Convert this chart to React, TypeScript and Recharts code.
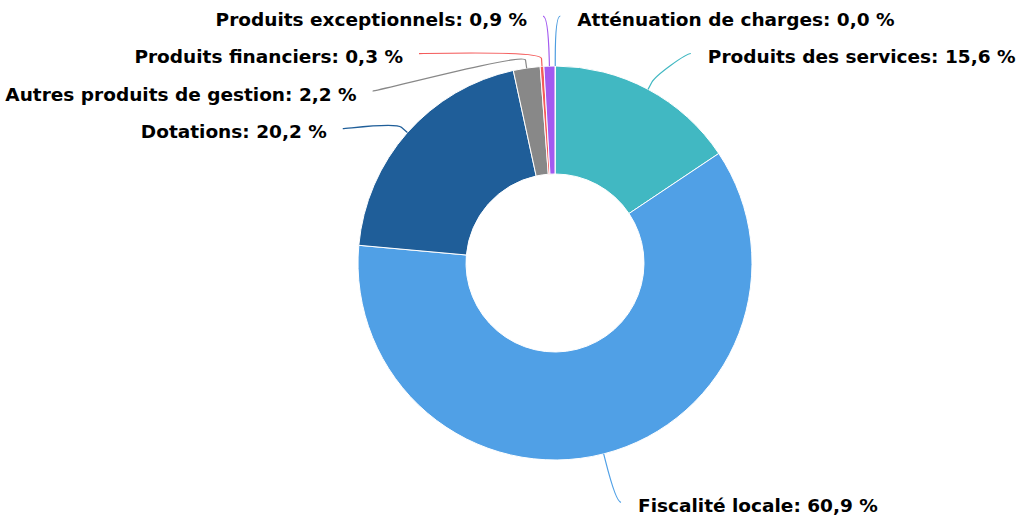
import React from "react";
import { PieChart, Pie, Cell } from "recharts";

// recettes de fonctionnement, parts en %
const categories = [
  "Atténuation de charges",
  "Produits des services",
  "Fiscalité locale",
  "Dotations",
  "Autres produits de gestion",
  "Produits financiers",
  "Produits exceptionnels",
];
const shares = [0.04, 15.6, 60.9, 20.2, 2.2, 0.3, 0.9];
const colors = ["#4d9de0", "#41b8c2", "#50a0e6", "#1f5e99", "#888888", "#f45b5b", "#a35af0"];

const W = 1016;
const H = 515;
const CX = 555;
const CY = 263;
const R = 197;
const R_IN = 89;
const LABEL_DIST = 50;
const STEP = 37.5;
const BREAK = 8;

const data = categories.map((name, i) => ({ name, value: shares[i] }));

const fmt = (v: number) => v.toFixed(1).replace(".", ",") + " %";

// highcharts-like label placement: natural y on a circle, then pushed apart per side
function layoutLabels() {
  const total = shares.reduce((a, b) => a + b, 0);
  const rl = R + LABEL_DIST;
  let acc = 0;
  const items = shares.map((v, i) => {
    const theta = ((acc + v / 2) / total) * 2 * Math.PI;
    acc += v;
    return { i, theta, right: Math.sin(theta) >= 0, y: CY - rl * Math.cos(theta) };
  });
  [true, false].forEach((side) => {
    const list = items.filter((d) => d.right === side).sort((a, b) => a.y - b.y);
    let prev = -Infinity;
    list.forEach((d) => {
      d.y = Math.max(d.y, prev + STEP);
      prev = d.y;
    });
  });
  return items.map((d) => {
    const dy = d.y - CY;
    const dx = Math.sqrt(Math.max(0, rl * rl - dy * dy)) + 5;
    const s = Math.sin(d.theta);
    const c = Math.cos(d.theta);
    return {
      ...d,
      ax: d.right ? CX + dx : CX - dx,
      tx: CX + R * s,
      ty: CY - R * c,
      bx: CX + (R + BREAK) * s,
      by: CY - (R + BREAK) * c,
    };
  });
}

const labels = layoutLabels();

function renderLabel(props: any) {
  const idx = typeof props.index === "number" ? props.index : categories.indexOf(props.name);
  const l = labels[idx];
  if (!l) return null;
  const c1 = l.right ? l.ax - 5 : l.ax + 5;
  const d = `M ${l.ax} ${l.y} C ${c1} ${l.y} ${2 * l.bx - l.tx} ${2 * l.by - l.ty} ${l.bx} ${l.by} L ${l.tx} ${l.ty}`;
  return (
    <g key={"lbl-" + idx}>
      <path d={d} fill="none" stroke={colors[idx]} strokeWidth={1.2} />
      <text
        x={l.right ? l.ax + 17 : l.ax - 16}
        y={l.y + 3}
        textAnchor={l.right ? "start" : "end"}
        dominantBaseline="central"
        fill="#000"
        stroke="#fff"
        strokeWidth={2}
        paintOrder="stroke"
        style={{ fontFamily: "'DejaVu Sans', Verdana, sans-serif", fontSize: 18.5, fontWeight: "bold" }}
      >
        {categories[idx] + ": " + fmt(shares[idx])}
      </text>
    </g>
  );
}

export default function App() {
  return (
    <div style={{ position: "absolute", left: 0, top: 0, width: W, height: H, background: "#fff" }}>
      <PieChart width={W} height={H} margin={{ top: 0, right: 0, bottom: 0, left: 0 }}>
        <Pie
          data={data}
          dataKey="value"
          nameKey="name"
          cx={CX}
          cy={CY}
          innerRadius={R_IN}
          outerRadius={R}
          startAngle={90}
          endAngle={-270}
          stroke="#fff"
          strokeWidth={1}
          label={renderLabel}
          labelLine={false}
          isAnimationActive={false}
        >
          {data.map((d, i) => (
            <Cell key={d.name} fill={colors[i]} />
          ))}
        </Pie>
      </PieChart>
    </div>
  );
}
